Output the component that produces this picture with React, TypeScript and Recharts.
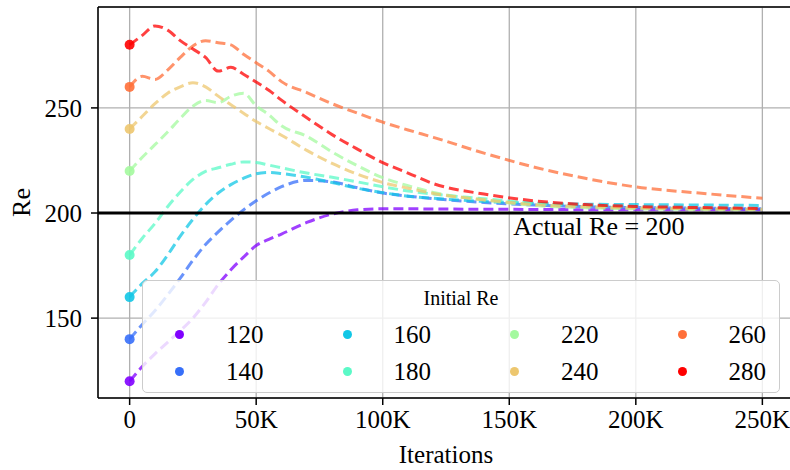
import React from 'react';
import {
  LineChart,
  Line,
  XAxis,
  YAxis,
  CartesianGrid,
  ReferenceLine,
  ReferenceDot,
  Legend,
} from 'recharts';

// Training iterations at which the estimated Reynolds number was sampled
const iterations = [
  0, 5000, 10000, 15000, 20000, 25000, 30000, 35000, 40000, 45000, 50000, 55000, 60000,
  70000, 80000, 90000, 100000, 110000, 120000, 140000, 160000, 180000, 200000, 225000, 250000,
];

// Estimated Re for each initial guess
const re120 = [120, 127, 133, 138.5, 144, 150, 157.5, 166, 173, 179, 184.5, 187.5, 190, 195.5, 199.5, 201.5, 202, 202, 201.9, 201.8, 201.7, 201.6, 201.6, 201.5, 201.5];
const re140 = [140, 147, 153.5, 161, 169, 177.5, 185, 191, 196.5, 201.5, 205.8, 209.5, 212.5, 215.5, 214.8, 212, 209.5, 208, 206.8, 205, 203.8, 203, 202.6, 202.3, 202];
const re160 = [160, 166.5, 172, 180, 189, 197, 204, 209.5, 213.5, 216.5, 218.7, 219.3, 218.8, 217, 214.5, 211.8, 209.7, 208, 207, 205.5, 204.6, 204.2, 204, 203.8, 203.6];
const re180 = [180, 188, 195, 203, 210, 216, 219.8, 221.5, 223.2, 224.3, 224, 222.8, 221.5, 219, 217, 214.8, 212.5, 210.5, 209, 206.8, 204.6, 203.4, 202.8, 202.3, 202];
const re220 = [220, 226.5, 232.5, 238.5, 245, 250.8, 253.5, 252.5, 255.5, 257, 251, 246.7, 241.5, 236.5, 229, 222.5, 216.8, 213, 209.8, 206.2, 203.6, 202.5, 202, 201.7, 201.5];
const re240 = [240, 246, 252, 257, 260, 262, 260, 255.6, 251.5, 247.5, 243.5, 240.2, 237, 229.8, 223.6, 218.5, 214.5, 211.8, 209.3, 206.3, 204, 203, 202.4, 202, 201.8];
const re260 = [260, 265, 263.5, 268, 274, 279.5, 282, 281, 280, 275.5, 271.5, 267.5, 262.5, 257.3, 252, 247.5, 243.2, 239.5, 236, 228.5, 221.8, 216.5, 212.4, 209.5, 207];
const re280 = [280, 284.5, 289, 287, 282, 278, 274, 267.5, 269.3, 266, 262.3, 258.4, 253.7, 245.3, 237.3, 230.4, 224, 219, 214, 209, 205.8, 204, 203.1, 202.6, 202.1];

const initialRe = [120, 140, 160, 180, 220, 240, 260, 280];
const seriesValues = [re120, re140, re160, re180, re220, re240, re260, re280];
// rainbow colormap sampled at 8 evenly spaced points
const seriesColors = ['#8000ff', '#376ff9', '#12c7e6', '#5bf9c7', '#a4f99f', '#edc76f', '#ff6f39', '#ff0000'];

const xTicks = [0, 50000, 100000, 150000, 200000, 250000];
const yTicks = [150, 200, 250];
const actualRe = 200;
const annotationX = 150000;

const FONT = "'Liberation Serif', 'Times New Roman', serif";

const rows = iterations.map((it, i) => {
  const row: Record<string, number> = { iter: it };
  initialRe.forEach((re, k) => {
    row[`re${re}`] = seriesValues[k][i];
  });
  return row;
});

const formatIter = (v: number) => (v === 0 ? '0' : `${v / 1000}K`);

const makeStartDot = (color: string) => (props: any) => {
  const { cx, cy, index } = props;
  if (index !== 0 || cx == null || cy == null) return <g key={`dot-${index}`} />;
  return <circle key={`dot-${index}`} cx={cx} cy={cy} r={5} fill={color} fillOpacity={0.9} />;
};

const LegendBox = (props: any) => {
  const payload: any[] = props.payload ?? [];
  const colStep = 167.5;
  return (
    <div
      style={{
        position: 'relative',
        width: 638,
        height: 113,
        boxSizing: 'border-box',
        background: 'rgba(255,255,255,0.8)',
        border: '1.5px solid #cccccc',
        borderRadius: 5,
        fontFamily: FONT,
        color: '#000',
      }}
    >
      <div
        style={{
          position: 'absolute',
          left: 0,
          top: 7,
          width: '100%',
          textAlign: 'center',
          fontSize: 20,
          lineHeight: '20px',
        }}
      >
        Initial Re
      </div>
      {payload.map((entry, i) => {
        const col = Math.floor(i / 2);
        const row = i % 2;
        const cy = row === 0 ? 53.5 : 90.5;
        const dotX = 36.5 + col * colStep;
        const textRight = 120.5 + col * colStep;
        return (
          <React.Fragment key={`leg-${i}`}>
            <div
              style={{
                position: 'absolute',
                left: dotX - 4.5,
                top: cy - 4.5,
                width: 9,
                height: 9,
                borderRadius: '50%',
                background: entry.color,
              }}
            />
            <div
              style={{
                position: 'absolute',
                left: textRight - 70,
                top: cy - 12.5,
                width: 70,
                textAlign: 'right',
                fontSize: 25,
                lineHeight: '25px',
              }}
            >
              {entry.value}
            </div>
          </React.Fragment>
        );
      })}
    </div>
  );
};

const ActualLabel = (props: any) => {
  const vb = props.viewBox ?? {};
  const x = (vb.x ?? 0) + (vb.width ?? 0) / 2;
  const y = (vb.y ?? 0) + (vb.height ?? 0) / 2;
  return (
    <text x={x + 4} y={y + 22} fontSize={26} fontFamily={FONT} fill="#000" textAnchor="start">
      Actual Re = 200
    </text>
  );
};

const XLabel = (props: any) => {
  const vb = props.viewBox ?? {};
  return (
    <text
      x={vb.x + vb.width / 2}
      y={vb.y + 65}
      fontSize={25}
      fontFamily={FONT}
      fill="#000"
      textAnchor="middle"
    >
      Iterations
    </text>
  );
};

const YLabel = (props: any) => {
  const vb = props.viewBox ?? {};
  const cx = vb.x + 21;
  const cy = vb.y + vb.height / 2;
  return (
    <text
      x={cx}
      y={cy}
      fontSize={26}
      fontFamily={FONT}
      fill="#000"
      textAnchor="middle"
      dominantBaseline="central"
      transform={`rotate(-90 ${cx} ${cy})`}
    >
      Re
    </text>
  );
};

export default function App() {
  return (
    <div
      style={{
        position: 'absolute',
        left: 0,
        top: 0,
        width: 790,
        height: 470,
        overflow: 'hidden',
        background: '#fff',
      }}
    >
      <LineChart
        width={794}
        height={470}
        data={rows}
        margin={{ top: 7, right: 0, bottom: 0, left: 0 }}
      >
        <CartesianGrid stroke="#b0b0b0" strokeWidth={1.3} />
        <XAxis
          dataKey="iter"
          type="number"
          domain={[-12500, 262500]}
          allowDataOverflow
          ticks={xTicks}
          tickFormatter={formatIter}
          tick={{ fill: '#000', fontSize: 25, fontFamily: FONT }}
          tickLine={{ stroke: '#000', strokeWidth: 1.5 }}
          axisLine={{ stroke: '#000', strokeWidth: 1.5 }}
          tickSize={7}
          tickMargin={5}
          height={72}
          label={<XLabel />}
        />
        <YAxis
          type="number"
          domain={[112, 298]}
          allowDataOverflow
          ticks={yTicks}
          tick={{ fill: '#000', fontSize: 25, fontFamily: FONT }}
          tickLine={{ stroke: '#000', strokeWidth: 1.5 }}
          axisLine={{ stroke: '#000', strokeWidth: 1.5 }}
          tickSize={7}
          tickMargin={9}
          width={98}
          label={<YLabel />}
        />
        <ReferenceLine y={298} stroke="#000" strokeWidth={1.5} />
        {initialRe.map((re, k) => (
          <Line
            key={`line-${re}`}
            dataKey={`re${re}`}
            name={String(re)}
            type="monotone"
            stroke={seriesColors[k]}
            strokeOpacity={0.75}
            strokeWidth={3}
            strokeDasharray="10 5"
            dot={makeStartDot(seriesColors[k])}
            activeDot={false}
            isAnimationActive={false}
          />
        ))}
        <ReferenceLine y={actualRe} stroke="#000" strokeWidth={3} />
        <ReferenceDot
          x={annotationX}
          y={actualRe}
          r={0}
          fill="none"
          stroke="none"
          label={<ActualLabel />}
        />
        <Legend
          layout="horizontal"
          verticalAlign="middle"
          align="center"
          content={<LegendBox />}
          wrapperStyle={{ left: 142, top: 280, width: 638, height: 113 }}
        />
      </LineChart>
    </div>
  );
}
